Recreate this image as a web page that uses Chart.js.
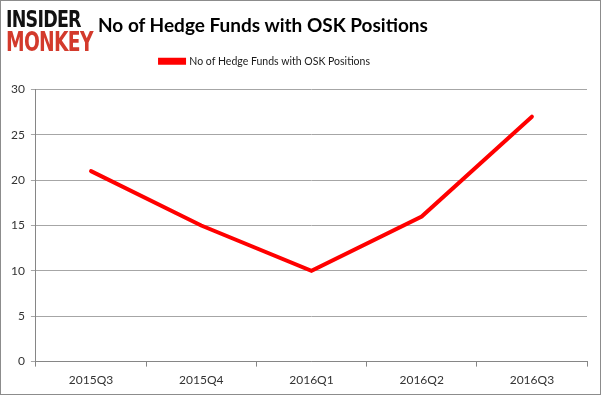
<!DOCTYPE html>
<html><head><meta charset="utf-8">
<script src="https://cdn.jsdelivr.net/npm/chart.js@4"></script>
<style>
html,body{margin:0;padding:0;background:#fff;}
#wrap{position:relative;width:599px;height:393px;border:1px solid #8c8c8c;background:#fff;}
#c{position:absolute;left:0;top:0;}
.logo{position:absolute;font-family:"DejaVu Sans",sans-serif;font-weight:900;letter-spacing:-1px;line-height:1;white-space:nowrap;}
#l1{left:5px;top:7px;font-size:23px;color:#111;transform:scaleX(0.76);transform-origin:left top;}
#l2{left:5px;top:28px;font-size:26px;color:#d33a2c;transform:scaleX(0.72);transform-origin:left top;}
#title{position:absolute;left:97px;top:12px;font-family:Lato,"Liberation Sans",sans-serif;font-weight:bold;font-size:19px;color:#000;white-space:nowrap;}
</style></head>
<body>
<div id="wrap">
<canvas id="c" width="599" height="393"></canvas>
<div class="logo" id="l1">INSIDER</div>
<div class="logo" id="l2">MONKEY</div>
<div id="title">No of Hedge Funds with OSK Positions</div>
</div>
<script>
const categories = ["2015Q3","2015Q4","2016Q1","2016Q2","2016Q3"];
const hedgeFunds = [21, 15, 10, 16, 27];
const seriesName = "No of Hedge Funds with OSK Positions";
const yTicks = [0, 5, 10, 15, 20, 25, 30];

const legendTweak = {
  id: 'legendTweak',
  beforeInit(chart) {
    const lg = chart.legend;
    const orig = lg.fit;
    lg.fit = function () { orig.call(this); this.height += 13; };
  },
  afterLayout(chart) {
    chart.legend.left -= 31;
    chart.legend.right -= 31;
  }
};

new Chart(document.getElementById('c'), {
  type: 'line',
  data: {
    labels: categories,
    datasets: [{
      label: seriesName,
      data: hedgeFunds,
      borderColor: '#ff0000',
      backgroundColor: '#ff0000',
      borderWidth: 4,
      pointRadius: 0,
      tension: 0,
      borderCapStyle: 'round'
    }]
  },
  plugins: [legendTweak],
  options: {
    responsive: false,
    animation: false,
    layout: { padding: { top: 42, right: 13, left: 4, bottom: 1 } },
    plugins: {
      legend: {
        display: true,
        position: 'top',
        labels: {
          boxWidth: 24, boxHeight: 3, padding: 13,
          color: '#1a1a1a',
          font: { family: 'Lato, "Liberation Sans", sans-serif', size: 10.5 }
        }
      },
      tooltip: { enabled: false }
    },
    scales: {
      x: {
        offset: true,
        grid: { display: true, drawOnChartArea: false, color: '#868686', tickLength: 5, offset: true },
        border: { color: '#868686' },
        ticks: { color: '#333', padding: 6, font: { family: 'Lato, "Liberation Sans", sans-serif', size: 12 } }
      },
      y: {
        min: 0, max: 30,
        afterBuildTicks: (axis) => { axis.ticks = yTicks.map(v => ({ value: v })); },
        grid: { color: '#a6a6a6', tickLength: 5 },
        border: { color: '#868686' },
        ticks: { color: '#333', padding: 6, font: { family: 'Lato, "Liberation Sans", sans-serif', size: 12 } }
      }
    }
  }
});
</script>
</body></html>
